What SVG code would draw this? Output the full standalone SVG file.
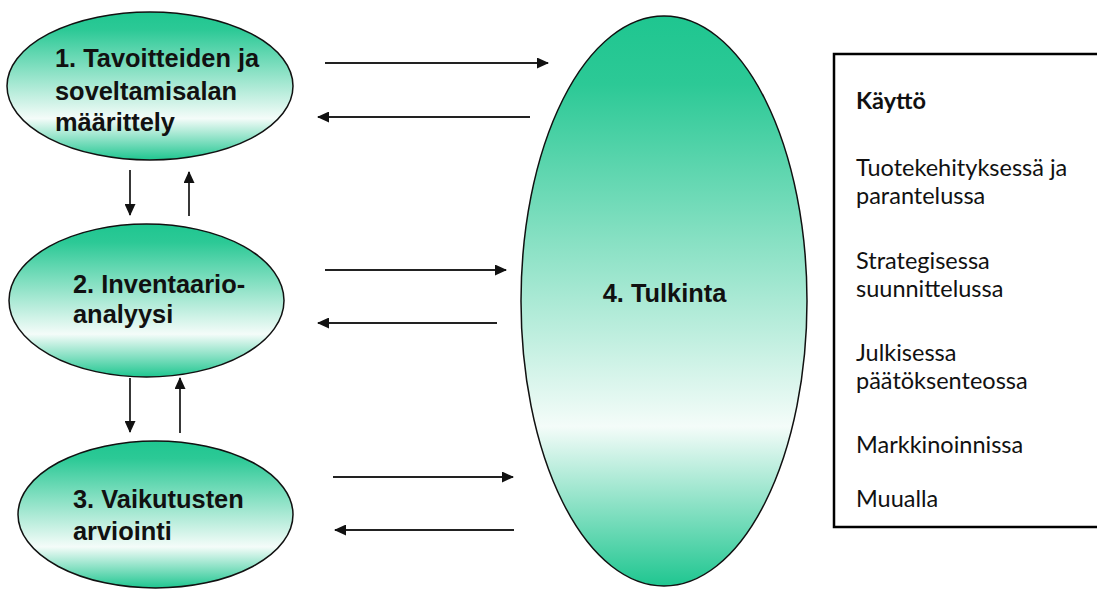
<svg xmlns="http://www.w3.org/2000/svg" width="1097" height="590" viewBox="0 0 1097 590">
<defs>
<linearGradient id="g" x1="0" y1="0" x2="0" y2="1">
<stop offset="0" stop-color="#1fc690"/>
<stop offset="0.12" stop-color="#2cc996"/>
<stop offset="0.72" stop-color="#f4fcf9"/>
<stop offset="1" stop-color="#1fc690"/>
</linearGradient>
<marker id="ah" markerWidth="12" markerHeight="11" refX="11" refY="5.5" orient="auto" markerUnits="userSpaceOnUse">
<path d="M0,0 L12,5.5 L0,11 Z" fill="#111"/>
</marker>
<style>
.ell{fill:url(#g);stroke:#111;stroke-width:1.5}
.lbl{font-family:"Liberation Sans",Arial,sans-serif;font-weight:bold;font-size:25.4px;fill:#111}
.con line{stroke:#222;stroke-width:1.8;marker-end:url(#ah)}
.box{fill:#fff;stroke:#000;stroke-width:2.5}
.bt{font-family:Lato,"Open Sans",sans-serif;font-size:23.5px;fill:#111}
</style>
</defs>
<rect width="1097" height="590" fill="#fff"/>
<g id="n1">
<ellipse class="ell" cx="150" cy="86" rx="143" ry="74"/>
<text class="lbl"><tspan x="55" y="67">1. Tavoitteiden ja</tspan><tspan x="55" y="100">soveltamisalan</tspan><tspan x="55" y="131">määrittely</tspan></text>
</g>
<g id="n2">
<ellipse class="ell" cx="146.5" cy="300.5" rx="137.5" ry="76.5"/>
<text class="lbl"><tspan x="73" y="293">2. Inventaario-</tspan><tspan x="73" y="323">analyysi</tspan></text>
</g>
<g id="n3">
<ellipse class="ell" cx="155.5" cy="514.5" rx="137.5" ry="73.5"/>
<text class="lbl"><tspan x="73" y="508">3. Vaikutusten</tspan><tspan x="73" y="540">arviointi</tspan></text>
</g>
<g id="n4">
<ellipse class="ell" cx="664" cy="301" rx="143" ry="285"/>
<text class="lbl" x="664.5" y="302" text-anchor="middle">4. Tulkinta</text>
</g>
<g id="n5">
<rect class="box" x="834" y="54" width="270" height="473"/>
<text class="bt" x="856" y="109" font-weight="bold">Käyttö</text>
<text class="bt"><tspan x="856" y="176">Tuotekehityksessä ja</tspan><tspan x="856" y="204">parantelussa</tspan></text>
<text class="bt"><tspan x="856" y="269">Strategisessa</tspan><tspan x="856" y="297">suunnittelussa</tspan></text>
<text class="bt"><tspan x="856" y="361">Julkisessa</tspan><tspan x="856" y="389">päätöksenteossa</tspan></text>
<text class="bt" x="856" y="453">Markkinoinnissa</text>
<text class="bt" x="856" y="507">Muualla</text>
</g>
<g id="connectors" class="con">
<line x1="325" y1="63" x2="548" y2="63"/>
<line x1="530" y1="117" x2="318" y2="117"/>
<line x1="325" y1="270" x2="506" y2="270"/>
<line x1="497" y1="323" x2="318" y2="323"/>
<line x1="333" y1="477" x2="513" y2="477"/>
<line x1="514" y1="530" x2="335" y2="530"/>
<line x1="130" y1="170" x2="130" y2="215"/>
<line x1="189" y1="216" x2="189" y2="172"/>
<line x1="130" y1="378" x2="130" y2="432"/>
<line x1="180" y1="433" x2="180" y2="378"/>
</g>
</svg>
